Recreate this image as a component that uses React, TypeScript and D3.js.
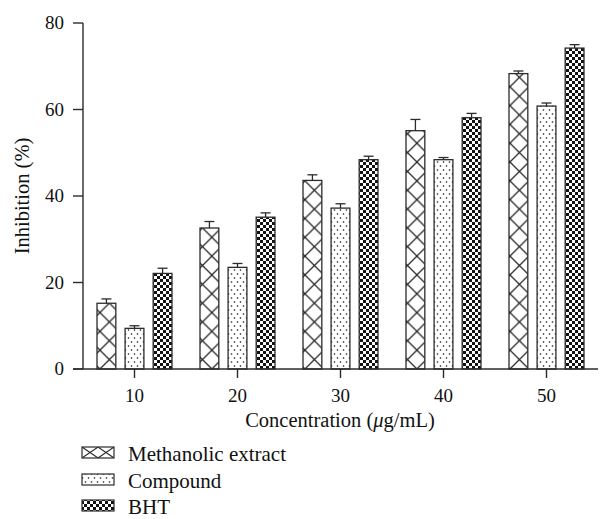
import React from 'react';
import * as d3 from 'd3';

const concentrations = ['10', '20', '30', '40', '50'];
const seriesNames = ['Methanolic extract', 'Compound', 'BHT'];
const methanolic = [15.2, 32.6, 43.6, 55.1, 68.3];
const methanolicErr = [1.0, 1.5, 1.3, 2.6, 0.6];
const compound = [9.4, 23.5, 37.2, 48.4, 60.8];
const compoundErr = [0.6, 0.9, 1.0, 0.5, 0.7];
const bht = [22.1, 35.1, 48.4, 58.1, 74.2];
const bhtErr = [1.2, 1.0, 0.8, 1.0, 0.8];
const yTicks = [0, 20, 40, 60, 80];

const W = 600;
const H = 519;
const FONT = "'Liberation Serif', 'DejaVu Serif', serif";
const INK = '#2b2b2b';

export default function App() {
  const x0 = d3.scaleBand<string>()
    .domain(concentrations)
    .range([83, 598])
    .paddingInner(0.272)
    .paddingOuter(0.136);
  const x1 = d3.scaleBand<string>()
    .domain(seriesNames)
    .range([0, x0.bandwidth()])
    .paddingInner(0.33);
  const y = d3.scaleLinear().domain([0, 80]).range([369, 23]);

  const values = [methanolic, compound, bht];
  const errors = [methanolicErr, compoundErr, bhtErr];
  const bw = x1.bandwidth();
  const baseY = y(0);

  // pattern ids per series
  const fillFor = (si: number, ci: number) =>
    si === 0 ? `url(#cross-${ci})` : si === 1 ? 'url(#dots)' : 'url(#checker)';

  const legendBaselines = [461, 488, 514];

  return (
    <svg width={W} height={H} style={{ position: 'absolute', left: 0, top: 0, fontFamily: FONT }}>
      <defs>
        {concentrations.map((c, ci) => (
          <pattern key={c} id={`cross-${ci}`} patternUnits="userSpaceOnUse"
            x={(x0(c) ?? 0) + (x1(seriesNames[0]) ?? 0)} y={baseY} width={bw} height={bw}>
            <rect width={bw} height={bw} fill="#fff" />
            <path d={`M0,0L${bw},${bw}M${bw},0L0,${bw}`} stroke={INK} strokeWidth={1.3} />
          </pattern>
        ))}
        <pattern id="cross-legend" patternUnits="userSpaceOnUse" x={82} y={legendBaselines[0] - 14} width={16} height={11}>
          <rect width={16} height={11} fill="#fff" />
          <path d="M0,0L16,11M16,0L0,11" stroke={INK} strokeWidth={1.1} />
        </pattern>
        <pattern id="dots" patternUnits="userSpaceOnUse" width={6} height={8}>
          <rect width={6} height={8} fill="#fff" />
          <circle cx={1.5} cy={2} r={0.8} fill="#111" />
          <circle cx={4.5} cy={6} r={0.8} fill="#111" />
        </pattern>
        <pattern id="checker" patternUnits="userSpaceOnUse" width={6} height={6}>
          <rect width={6} height={6} fill="#fff" />
          <rect width={3} height={3} fill="#111" />
          <rect x={3} y={3} width={3} height={3} fill="#111" />
        </pattern>
      </defs>

      {/* bars */}
      {concentrations.map((c, ci) => (
        <g key={c} transform={`translate(${x0(c)},0)`}>
          {seriesNames.map((s, si) => {
            const v = values[si][ci];
            const e = errors[si][ci];
            const bx = x1(s) ?? 0;
            const cx = bx + bw / 2;
            return (
              <g key={s}>
                <line x1={cx} x2={cx} y1={y(v)} y2={y(v + e)} stroke={INK} strokeWidth={1.3} />
                <line x1={cx - 5} x2={cx + 5} y1={y(v + e)} y2={y(v + e)} stroke={INK} strokeWidth={1.3} />
                <rect x={bx} y={y(v)} width={bw} height={baseY - y(v)}
                  fill={fillFor(si, ci)} stroke={INK} strokeWidth={1.3} />
              </g>
            );
          })}
        </g>
      ))}

      {/* y axis */}
      <line x1={83} x2={83} y1={y(80)} y2={baseY} stroke={INK} strokeWidth={1.4} />
      {yTicks.map(t => (
        <g key={t} transform={`translate(0,${y(t)})`}>
          <line x1={73} x2={83} stroke={INK} strokeWidth={1.4} />
          <text x={64} dy="0.34em" textAnchor="end" fontSize={19} fill="#111">{t}</text>
        </g>
      ))}
      <text transform={`translate(29,196) rotate(-90)`} textAnchor="middle"
        fontSize={20.5} fill="#111">Inhibition (%)</text>

      {/* x axis */}
      <line x1={73} x2={598} y1={baseY} y2={baseY} stroke={INK} strokeWidth={1.4} />
      {concentrations.map(c => {
        const cx = (x0(c) ?? 0) + x0.bandwidth() / 2;
        return (
          <g key={c}>
            <line x1={cx} x2={cx} y1={baseY} y2={baseY + 9} stroke={INK} strokeWidth={1.4} />
            <text x={cx} y={402} textAnchor="middle" fontSize={19} fill="#111">{c}</text>
          </g>
        );
      })}
      <text x={340} y={427} textAnchor="middle" fontSize={20.5} fill="#111">
        Concentration (<tspan fontStyle="italic">μ</tspan>g/mL)
      </text>

      {/* legend */}
      {seriesNames.map((s, si) => {
        const base = legendBaselines[si];
        const fill = si === 0 ? 'url(#cross-legend)' : si === 1 ? 'url(#dots)' : 'url(#checker)';
        return (
          <g key={s}>
            <rect x={82} y={base - 14} width={32} height={11} fill={fill} stroke={INK} strokeWidth={1.2} />
            <text x={128} y={base} fontSize={21} fill="#111">{s}</text>
          </g>
        );
      })}
    </svg>
  );
}
